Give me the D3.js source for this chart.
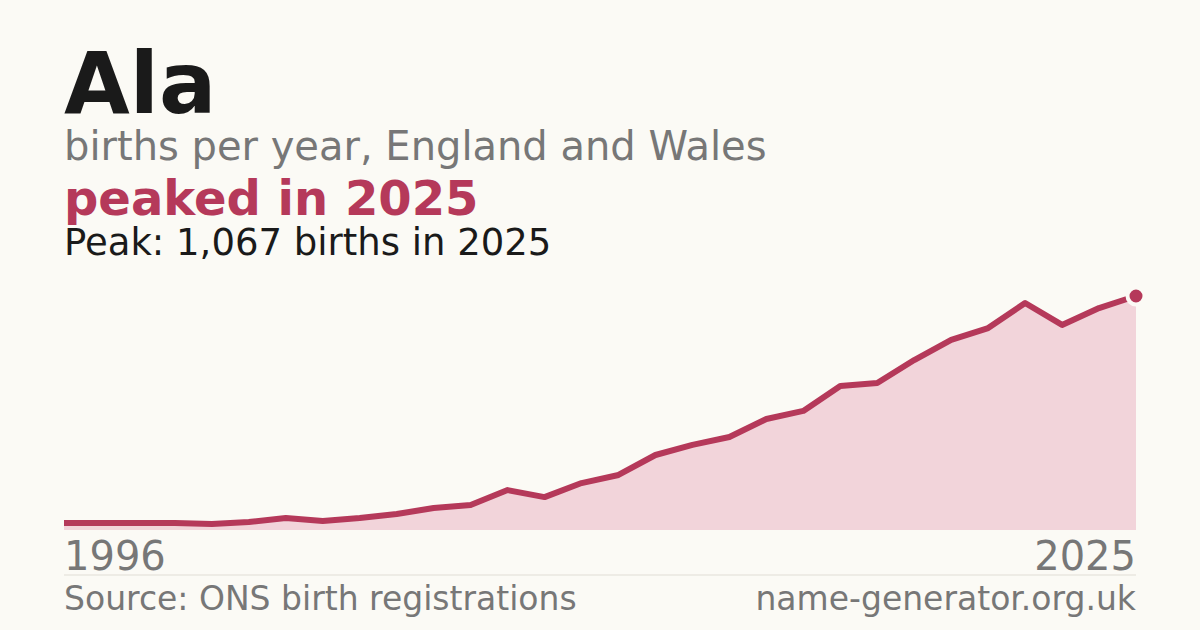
<!DOCTYPE html>
<html><head><meta charset="utf-8">
<script src="https://cdn.jsdelivr.net/npm/d3@7"></script>
<style>body{margin:0;background:#fbfaf5}svg{display:block}text{font-family:"DejaVu Sans",sans-serif}</style>
</head><body><svg id="c" width="1200" height="630"></svg>
<script>
const years = d3.range(1996, 2026);
const births = [32,32,32,32,27,36,55,41,55,73,100,114,182,150,214,251,342,388,424,506,543,657,670,775,867,921,1035,935,1012,1067];
const xTicks = ["1996","2025"];
const svg = d3.select("#c");
svg.append("rect").attr("width",1200).attr("height",630).attr("fill","#fbfaf5");
const x = d3.scaleLinear().domain([1996,2025]).range([64,1136]);
const y = d3.scaleLinear().domain([0,1067]).range([530,296]);
const data = years.map((yr,i)=>({yr,v:births[i]}));
svg.append("path").datum(data).attr("fill","#f2d4da")
  .attr("d", d3.area().x(d=>x(d.yr)).y0(530).y1(d=>y(d.v)));
svg.append("path").datum(data).attr("fill","none").attr("stroke","#b5395a").attr("stroke-width",6)
  .attr("stroke-linejoin","round")
  .attr("d", d3.line().x(d=>x(d.yr)).y(d=>y(d.v)));
const last = data[data.length-1];
svg.append("circle").attr("cx",x(last.yr)).attr("cy",y(last.v)).attr("r",8.5)
  .attr("fill","#b5395a").attr("stroke","#fbfaf5").attr("stroke-width",4);
const t = (txt,xx,yy,size,fill,weight,anchor)=>svg.append("text").text(txt).attr("x",xx).attr("y",yy)
  .attr("font-size",size).attr("fill",fill).attr("font-weight",weight||"normal").attr("text-anchor",anchor||"start");
t("Ala",64,113,85,"#1a1a1a","bold");
t("births per year, England and Wales",64,160,40,"#777");
t("peaked in 2025",64,215,48,"#b5395a","bold");
t("Peak: 1,067 births in 2025",64,255,37,"#1a1a1a");
t(xTicks[0],64,570,40,"#777");
t(xTicks[1],1136,570,40,"#777","normal","end");
svg.append("line").attr("x1",64).attr("x2",1136).attr("y1",575).attr("y2",575).attr("stroke","#e0ddd5");
t("Source: ONS birth registrations",64,610,33,"#777");
t("name-generator.org.uk",1136,610,33,"#777","normal","end");
</script></body></html>
